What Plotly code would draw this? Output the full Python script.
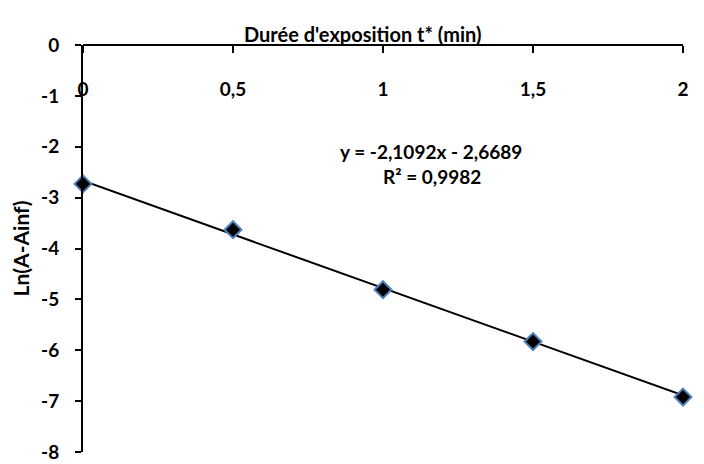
import plotly.graph_objects as go

# data
t_values = [0, 0.5, 1, 1.5, 2]
ln_values = [-2.73, -3.63, -4.81, -5.83, -6.92]
slope = -2.1092
intercept = -2.6689
r2_text = "R² = 0,9982"
eq_text = "y = -2,1092x - 2,6689"
x_ticks = [0, 0.5, 1, 1.5, 2]
x_tick_labels = ["0", "0,5", "1", "1,5", "2"]
y_ticks = [0, -1, -2, -3, -4, -5, -6, -7, -8]
y_tick_labels = ["0", "-1", "-2", "-3", "-4", "-5", "-6", "-7", "-8"]

FONT = "Lato"
trend_x = [min(t_values), max(t_values)]
trend_y = [slope * v + intercept for v in trend_x]

fig = go.Figure()
fig.add_trace(go.Scatter(x=trend_x, y=trend_y, mode="lines",
                         line=dict(color="black", width=2), showlegend=False,
                         hoverinfo="skip"))
fig.add_trace(go.Scatter(x=t_values, y=ln_values, mode="markers",
                         marker=dict(symbol="diamond", size=13, color="black",
                                     line=dict(color="#4f81bd", width=2)),
                         showlegend=False, cliponaxis=False))

# page body has an 8px margin, so the figure is sized 8px smaller
fig.update_layout(
    width=696, height=456,
    margin=dict(l=75, r=21, t=37, b=12),
    paper_bgcolor="white", plot_bgcolor="white",
    separators=",.",
    font=dict(family=FONT, size=18, color="black"),
    showlegend=False,
)
fig.update_xaxes(
    range=[0, 2], tickvals=x_ticks, ticktext=x_tick_labels,
    anchor="free", position=1, side="bottom", automargin=False,
    showline=True, linecolor="black", linewidth=2,
    ticks="outside", ticklen=7, tickwidth=1.5, tickcolor="black",
    ticklabelstandoff=20,
    tickfont=dict(family=FONT, size=19, weight="bold"),
    showgrid=False, zeroline=False,
)
fig.update_yaxes(
    range=[-8, 0], tickvals=y_ticks, ticktext=y_tick_labels, automargin=False,
    showline=True, linecolor="black", linewidth=2,
    ticks="outside", ticklen=6, tickwidth=1.5, tickcolor="black",
    ticklabelstandoff=12,
    tickfont=dict(family=FONT, size=19, weight="bold"),
    showgrid=False, zeroline=False,
    title=dict(text="Ln(A-Ainf)", font=dict(family=FONT, size=21, weight="bold"),
               standoff=8),
)
fig.add_annotation(text="Durée d'exposition t* (min)", xref="paper", yref="paper",
                   x=(363 - 83) / 600, y=1, yshift=25, showarrow=False,
                   font=dict(family=FONT, size=20, weight="bold"))
fig.add_annotation(text=eq_text, xref="paper", yref="paper",
                   x=(431 - 83) / 600, y=(452 - 138) / 407, showarrow=False,
                   font=dict(family=FONT, size=19, weight="bold"))
fig.add_annotation(text=r2_text, xref="paper", yref="paper",
                   x=(432 - 83) / 600, y=(452 - 163) / 407, showarrow=False,
                   font=dict(family=FONT, size=19, weight="bold"))

fig.write_html("out.html")
